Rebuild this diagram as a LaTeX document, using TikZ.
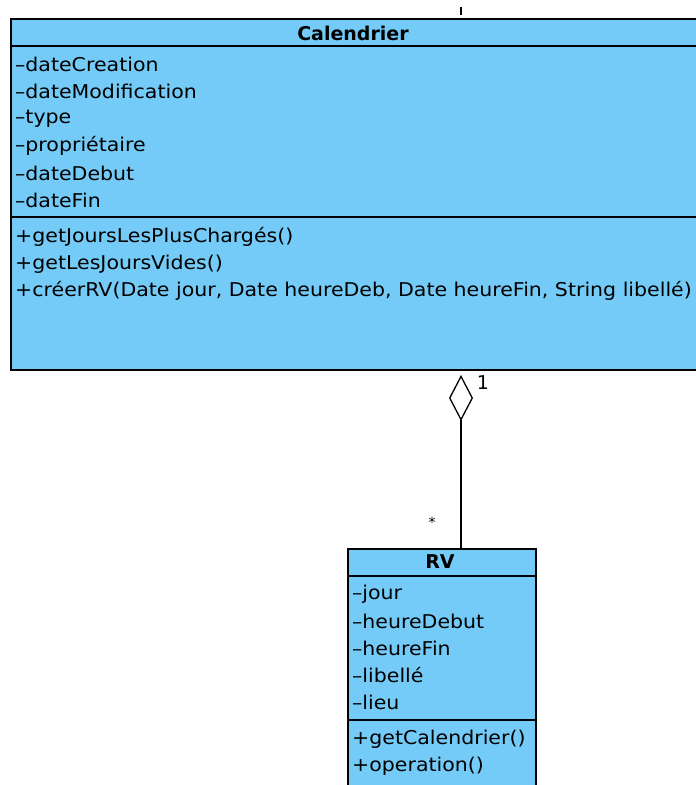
\documentclass[tikz,border=0pt]{standalone}
\usepackage{fontspec}
\setmainfont{DejaVu Sans}
\newfontfamily\umlfont[FakeStretch=1.08]{DejaVu Sans}
\usepackage{xcolor}
\usetikzlibrary{arrows.meta}
\definecolor{umlblue}{RGB}{116,203,247}
\tikzset{
  classbox/.style={draw, line width=1.3pt, fill=umlblue, inner sep=0pt},
  member/.style={anchor=west, inner sep=0pt, font=\umlfont\fontsize{19}{19}\selectfont},
  title/.style={inner sep=0pt, font=\fontsize{19}{19}\selectfont\bfseries},
}

\begin{document}
\begin{tikzpicture}[x=1pt,y=-1pt]
		\useasboundingbox (0,0) rectangle (696,785);
		\clip (0,0) rectangle (696,785);
		\node[classbox, minimum width=688, minimum height=351] (Cal) at (355,194.5) {};
		\node[classbox, minimum width=188, minimum height=251] (RV) at (442,674.5) {};
		%
		\draw[line width=1.3pt] (Cal.west |- 0,46) -- (Cal.east |- 0,46);
		\draw[line width=1.3pt] (Cal.west |- 0,217) -- (Cal.east |- 0,217);
		\draw[line width=1.3pt] (RV.west |- 0,576) -- (RV.east |- 0,576);
		\draw[line width=1.3pt] (RV.west |- 0,720) -- (RV.east |- 0,720);
		%
		\node[title] (CalT) at (353,33) {Calendrier};
		\node[member] (c1) at (15,64) {–dateCreation};
		\node[member] (c2) at (15,91) {–dateModification};
		\node[member] (c3) at (15,119) {–type};
		\node[member] (c4) at (15,146) {–propriétaire};
		\node[member] (c5) at (15,173) {–dateDebut};
		\node[member] (c6) at (15,200) {–dateFin};
		\node[member] (o1) at (15,237) {+getJoursLesPlusChargés()};
		\node[member] (o2) at (15,264) {+getLesJoursVides()};
		\node[member] (o3) at (15,291) {+créerRV(Date jour, Date heureDeb, Date heureFin, String libellé)};
		%
		\node[title] (RVT) at (440,562) {RV};
		\node[member] (r1) at (352,594) {–jour};
		\node[member] (r2) at (352,621) {–heureDebut};
		\node[member] (r3) at (352,648) {–heureFin};
		\node[member] (r4) at (352,675) {–libellé};
		\node[member] (r5) at (352,702) {–lieu};
		\node[member] (p1) at (352,739) {+getCalendrier()};
		\node[member] (p2) at (352,766) {+operation()};
		%
		\coordinate (agg) at (461,375);
		\coordinate (up1) at (461,7);
		\coordinate (up2) at (461,15);
		\draw[line width=1.3pt, -{Diamond[open,width=24pt,length=46pt]}] (RV.north -| agg) -- (agg);
		\draw[line width=1.3pt] (up1) -- (up2);
		\node[inner sep=0pt, font=\fontsize{19}{19}\selectfont] (one) at (483,383) {1};
		\node[inner sep=0pt, font=\fontsize{14}{14}\selectfont] (many) at (432,522) {*};
\end{tikzpicture}
\end{document}
